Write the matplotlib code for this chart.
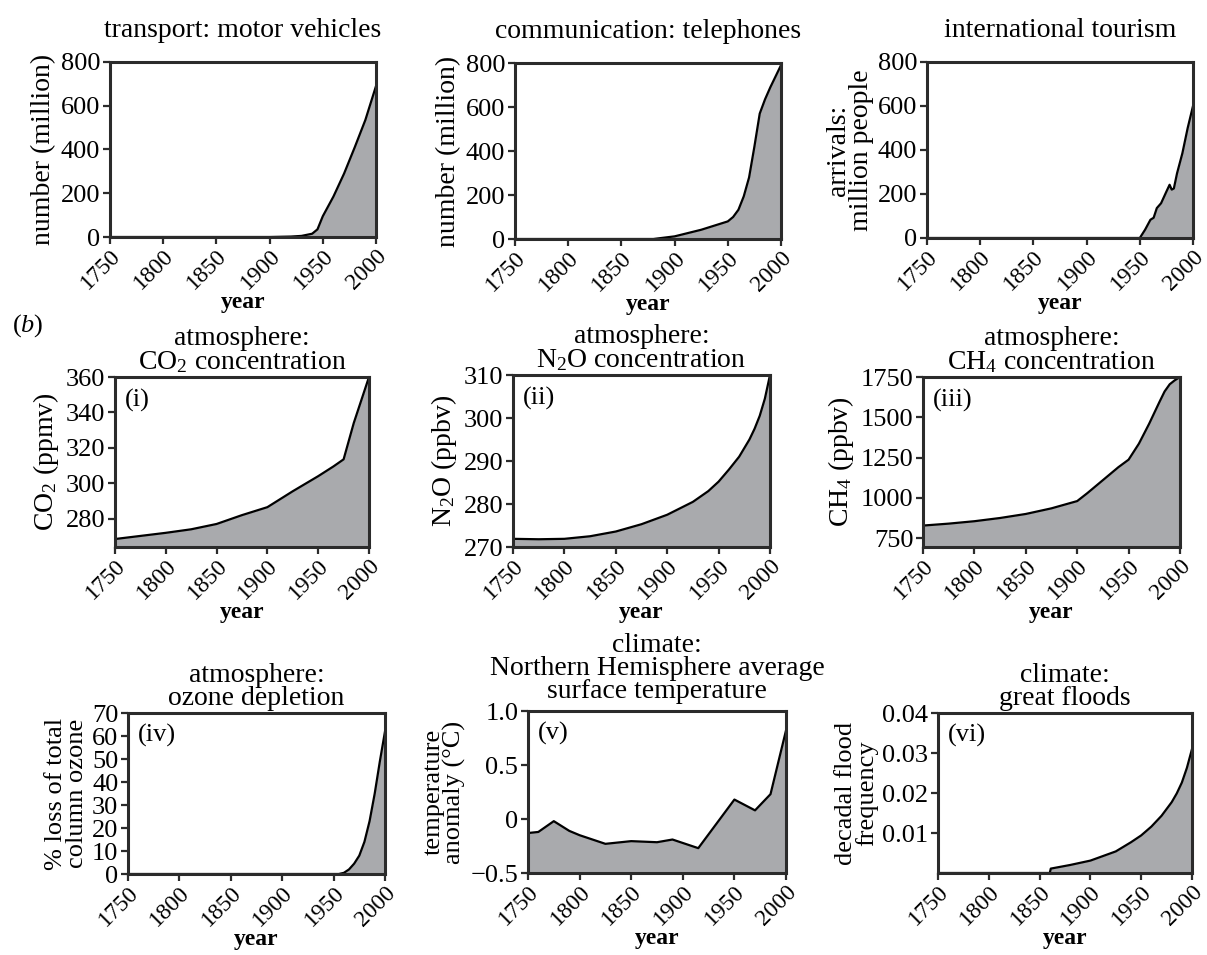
import matplotlib
matplotlib.use("Agg")
import matplotlib.pyplot as plt

plt.rcParams['font.family'] = ['Liberation Serif', 'DejaVu Serif']
plt.rcParams['mathtext.fontset'] = 'custom'
plt.rcParams['mathtext.rm'] = 'Liberation Serif'
plt.rcParams['mathtext.it'] = 'Liberation Serif:italic'

# data
veh_year = [1750, 1900, 1920, 1930, 1940, 1945, 1950, 1960, 1970, 1980, 1990, 2000]
veh_val = [0, 0, 2, 5, 15, 35, 95, 185, 290, 410, 535, 690]

tel_year = [1750, 1880, 1900, 1925, 1950, 1955, 1960, 1965, 1970, 1975, 1980, 1985, 1990, 1995, 2000]
tel_val = [0, 0, 12, 42, 80, 100, 133, 194, 280, 420, 570, 635, 690, 740, 790]

tour_year = [1750, 1950, 1955, 1960, 1963, 1966, 1970, 1975, 1978, 1980, 1982, 1985, 1990, 1995, 2000]
tour_val = [0, 0, 38, 83, 92, 136, 158, 211, 242, 220, 225, 294, 385, 500, 600]

co2_year = [1750, 1800, 1825, 1850, 1875, 1900, 1925, 1950, 1965, 1975, 1985, 2000]
co2_val = [268.5, 272, 274, 277, 282, 286.5, 295.5, 304, 309.5, 313.5, 334, 360]

n2o_year = [1750, 1775, 1800, 1825, 1850, 1875, 1900, 1925, 1940, 1950, 1960, 1970, 1980, 1985, 1990, 1995, 2000]
n2o_val = [271.9, 271.8, 271.9, 272.5, 273.6, 275.3, 277.5, 280.5, 283, 285.2, 288, 291, 295, 297.5, 300.5, 304.5, 310]

ch4_year = [1750, 1775, 1800, 1825, 1850, 1875, 1900, 1910, 1925, 1940, 1950, 1960, 1970, 1980, 1985, 1990, 1995, 2000]
ch4_val = [828, 840, 855, 875, 900, 935, 980, 1030, 1110, 1190, 1237, 1336, 1460, 1595, 1660, 1705, 1730, 1750]

oz_year = [1750, 1955, 1960, 1965, 1970, 1975, 1980, 1985, 1990, 1995, 2000]
oz_val = [0, 0, 0.5, 2, 4.5, 8, 14, 23, 35, 49, 62]

temp_year = [1750, 1760, 1775, 1790, 1800, 1825, 1850, 1875, 1890, 1915, 1950, 1970, 1985, 2000]
temp_val = [-0.13, -0.12, -0.02, -0.11, -0.15, -0.23, -0.205, -0.215, -0.19, -0.27, 0.18, 0.08, 0.23, 0.82]

fl_year = [1750, 1860, 1861, 1880, 1900, 1925, 1940, 1950, 1960, 1970, 1980, 1985, 1990, 1995, 2000]
fl_val = [0, 0, 0.0011, 0.002, 0.0031, 0.0054, 0.0077, 0.0094, 0.0116, 0.0143, 0.0177, 0.0199,
          0.0226, 0.0263, 0.031]

year_ticks = [1750, 1800, 1850, 1900, 1950, 2000]

W, H = 1207, 955
fig = plt.figure(figsize=(W / 100, H / 100), dpi=100)

FILL = '#a9aaad'
SPINE = '#2b2b2b'


def panel(box, years, vals, ylim, yticks, yticklabels, title, ylabel, tag=None,
          ylab_size=20, title_pad=6):
    x0, x1, y0, y1 = box
    ax = fig.add_axes([x0 / W, 1 - y1 / H, (x1 - x0) / W, (y1 - y0) / H])
    ax.fill_between(years, vals, ylim[0], color=FILL, lw=0)
    ax.plot(years, vals, color='black', lw=1.6)
    ax.set_xlim(1750, 2000)
    ax.set_ylim(*ylim)
    ax.set_xticks(year_ticks)
    ax.set_xticklabels([str(y) for y in year_ticks], rotation=45, ha='right',
                       va='top', rotation_mode='anchor', fontsize=17)
    ax.set_yticks(yticks)
    ax.set_yticklabels(yticklabels, fontsize=19)
    ax.tick_params(direction='out', length=5, width=1.6, color=SPINE, pad=2)
    ax.tick_params(axis='x', pad=1)
    for s in ax.spines.values():
        s.set_linewidth(2.2)
        s.set_color(SPINE)
    ax.set_xlabel('year', fontsize=17, fontweight='bold', labelpad=-1)
    ax.set_ylabel(ylabel, fontsize=ylab_size, linespacing=0.9, labelpad=3)
    ax.set_title(title, fontsize=20, linespacing=0.9, pad=title_pad)
    if tag:
        ax.text(0.04, 0.93, tag, transform=ax.transAxes, fontsize=19, va='top', ha='left')
    return ax


panel((110, 376, 62, 237), veh_year, veh_val, (0, 800), [0, 200, 400, 600, 800],
      ['0', '200', '400', '600', '800'], 'transport: motor vehicles', 'number (million)',
      title_pad=18)
panel((515, 781, 63, 239), tel_year, tel_val, (0, 800), [0, 200, 400, 600, 800],
      ['0', '200', '400', '600', '800'], 'communication: telephones', 'number (million)',
      title_pad=18)
panel((927, 1193, 62, 238), tour_year, tour_val, (0, 800), [0, 200, 400, 600, 800],
      ['0', '200', '400', '600', '800'], 'international tourism', 'arrivals:\nmillion people',
      title_pad=18)

panel((115, 369, 377, 547), co2_year, co2_val, (264, 360), [280, 300, 320, 340, 360],
      ['280', '300', '320', '340', '360'], 'atmosphere:\nCO$_2$ concentration',
      'CO$_2$ (ppmv)', '(i)')
panel((513, 770, 375, 547), n2o_year, n2o_val, (270, 310), [270, 280, 290, 300, 310],
      ['270', '280', '290', '300', '310'], 'atmosphere:\nN$_2$O concentration',
      'N$_2$O (ppbv)', '(ii)')
panel((923, 1180, 377, 547), ch4_year, ch4_val, (695, 1750), [750, 1000, 1250, 1500, 1750],
      ['750', '1000', '1250', '1500', '1750'], 'atmosphere:\nCH$_4$ concentration',
      'CH$_4$ (ppbv)', '(iii)')

panel((128, 385, 713, 874), oz_year, oz_val, (0, 70), list(range(0, 80, 10)),
      [str(v) for v in range(0, 80, 10)], 'atmosphere:\nozone depletion',
      '% loss of total\ncolumn ozone', '(iv)', ylab_size=19)
panel((528, 786, 711, 873), temp_year, temp_val, (-0.5, 1.0), [-0.5, 0, 0.5, 1.0],
      ['\u22120.5', '0', '0.5', '1.0'],
      'climate:\nNorthern Hemisphere average\nsurface temperature',
      'temperature\nanomaly (\u00b0C)', '(v)', ylab_size=19, title_pad=9)
panel((938, 1192, 713, 873), fl_year, fl_val, (0, 0.04), [0.01, 0.02, 0.03, 0.04],
      ['0.01', '0.02', '0.03', '0.04'], 'climate:\ngreat floods',
      'decadal flood\nfrequency', '(vi)', ylab_size=19)

fig.text(12 / W, 1 - 332 / H, '($b$)', fontsize=19, ha='left', va='baseline')

fig.savefig('out.png', dpi=100)
